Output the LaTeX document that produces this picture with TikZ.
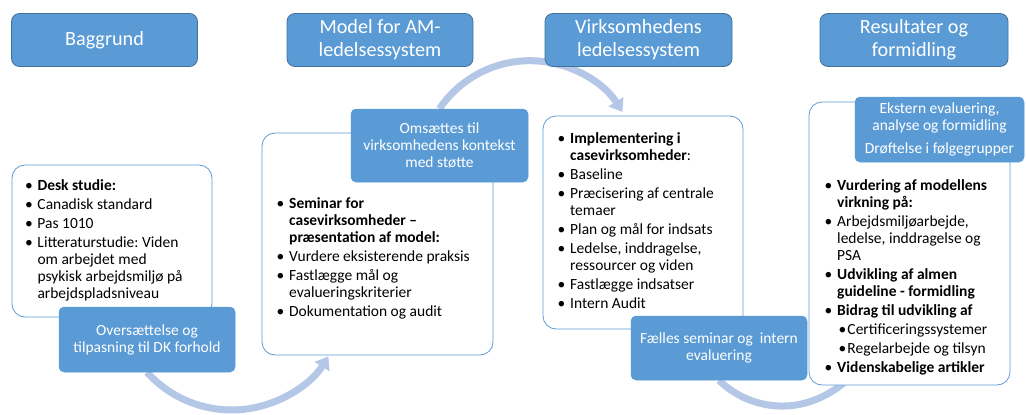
\documentclass[tikz,border=0pt]{standalone}
\usepackage{fontspec}
\setmainfont{Carlito}
\usetikzlibrary{arrows.meta}
\pgfdeclarelayer{background}
\pgfsetlayers{background,main}

\definecolor{accent}{HTML}{5B9BD5}
\definecolor{accentdark}{HTML}{41719C}
\definecolor{flowblue}{HTML}{B4C7E7}

% bullet cells for the two-column lists (bullet column + text column)
\newcommand{\bul}{\makebox[10pt][l]{\hspace{-2.5pt}\textbullet}}
\newcommand{\subbul}{\hspace{3.8pt}\makebox[6.5pt][l]{\hspace{-2.5pt}\textbullet}}

\begin{document}
\begin{tikzpicture}[x=1pt,y=-1pt,
  hdr/.style={rectangle, rounded corners=8pt, fill=accent, draw=accentdark, line width=0.8pt,
    text=white, font=\fontsize{20.2}{23}\selectfont, align=center, inner sep=0pt},
  tagbox/.style={rectangle, rounded corners=5pt, fill=accent, draw=accent, line width=0.5pt,
    text=white, font=\fontsize{15.5}{17}\selectfont, align=center, inner sep=0pt},
  panel/.style={rectangle, rounded corners=13pt, fill=white, draw=accent, line width=0.8pt, inner sep=0pt},
  listtext/.style={anchor=base west, inner sep=0pt,
    font=\fontsize{15.5}{17}\selectfont\frenchspacing},
  flow/.style={draw=flowblue, line width=7pt, -{Triangle[width=17pt,length=12pt]}}
]
\useasboundingbox (0,0) rectangle (1026,415);

% column headers
\node[hdr, minimum width=186pt, minimum height=53pt] (h1) at (104.5,40) {Baggrund};
\node[hdr, minimum width=186pt, minimum height=53pt] (h2) at (380,40) {Model for AM-\\ledelsessystem};
\node[hdr, minimum width=187pt, minimum height=53pt] (h3) at (638.5,40) {Virksomhedens\\ledelsessystem};
\node[hdr, minimum width=188pt, minimum height=53pt] (h4) at (914,40) {Resultater og\\formidling};

% white content panels
\node[panel, minimum width=200pt, minimum height=152pt] (p1) at (112,241) {};
\node[panel, minimum width=231pt, minimum height=222pt] (p2) at (377.5,244) {};
\node[panel, minimum width=200pt, minimum height=213pt] (p3) at (643,222.5) {};
\node[panel, minimum width=201pt, minimum height=283pt] (p4) at (909.5,243.5) {};

% panel texts
\node[listtext] (t1) at (27.3,190.5) {\begin{tabular}[t]{@{}l@{}l@{}}
  \bul & \textbf{Desk studie:}\\[2pt]
  \bul & Canadisk standard\\[2pt]
  \bul & Pas 1010\\[2pt]
  \bul & Litteraturstudie: Viden\\
       & om arbejdet med\\
       & psykisk arbejdsmiljø på\\
       & arbejdspladsniveau
\end{tabular}};

\node[listtext] (t2) at (279,208.5) {\begin{tabular}[t]{@{}l@{}l@{}}
  \bul & \textbf{Seminar for}\\
       & \textbf{casevirksomheder –}\\
       & \textbf{præsentation af model:}\\[2pt]
  \bul & Vurdere eksisterende praksis\\[2pt]
  \bul & Fastlægge mål og\\
       & evalueringskriterier\\[2pt]
  \bul & Dokumentation og audit
\end{tabular}};

\node[listtext] (t3) at (560,143.5) {\begin{tabular}[t]{@{}l@{}l@{}}
  \bul & \textbf{Implementering i}\\
       & \textbf{casevirksomheder}:\\[2pt]
  \bul & Baseline\\[2pt]
  \bul & Præcisering af centrale\\
       & temaer\\[2pt]
  \bul & Plan og mål for indsats\\[2pt]
  \bul & Ledelse, inddragelse,\\
       & ressourcer og viden\\[2pt]
  \bul & Fastlægge indsatser\\[2pt]
  \bul & Intern Audit
\end{tabular}};

\node[listtext] (t4) at (827,190.5) {\begin{tabular}[t]{@{}l@{}l@{}}
  \bul & \textbf{Vurdering af modellens}\\
       & \textbf{virkning på:}\\[2pt]
  \bul & Arbejdsmiljøarbejde,\\
       & ledelse, inddragelse og\\
       & PSA\\[2pt]
  \bul & \textbf{Udvikling af almen}\\
       & \textbf{guideline - formidling}\\[2pt]
  \bul & \textbf{Bidrag til udvikling af}\\[2pt]
       & \subbul Certificeringssystemer\\[2pt]
       & \subbul Regelarbejde og tilsyn\\[2pt]
  \bul & \textbf{Videnskabelige artikler}
\end{tabular}};

% transition boxes
\node[tagbox, minimum width=176pt, minimum height=65pt] (trans) at (147,339.5)
  {Oversættelse og\\tilpasning til DK forhold};
\node[tagbox, minimum width=177pt, minimum height=73pt] (omsaet) at (439.5,145.5)
  {Omsættes til\\virksomhedens kontekst\\med støtte};
\node[tagbox, minimum width=176pt, minimum height=64pt] (faelles) at (719,348)
  {Fælles seminar og\ \ intern\\evaluering};
\node[tagbox, minimum width=169pt, minimum height=65pt] (ekstern) at (939.5,129.5)
  {Ekstern evaluering,\\analyse og formidling\\[6pt]Drøftelse i følgegrupper};

% flow arcs between the stages, behind the boxes
\begin{pgfonlayer}{background}
  \draw[flow] (trans.south) arc[start angle=222, end angle=328, radius=114pt];
  \draw[flow] (omsaet.north) arc[start angle=146, end angle=32, radius=109pt];
  \draw[flow] (faelles.south) arc[start angle=225.5, end angle=330, radius=90pt];
\end{pgfonlayer}
\end{tikzpicture}
\end{document}
